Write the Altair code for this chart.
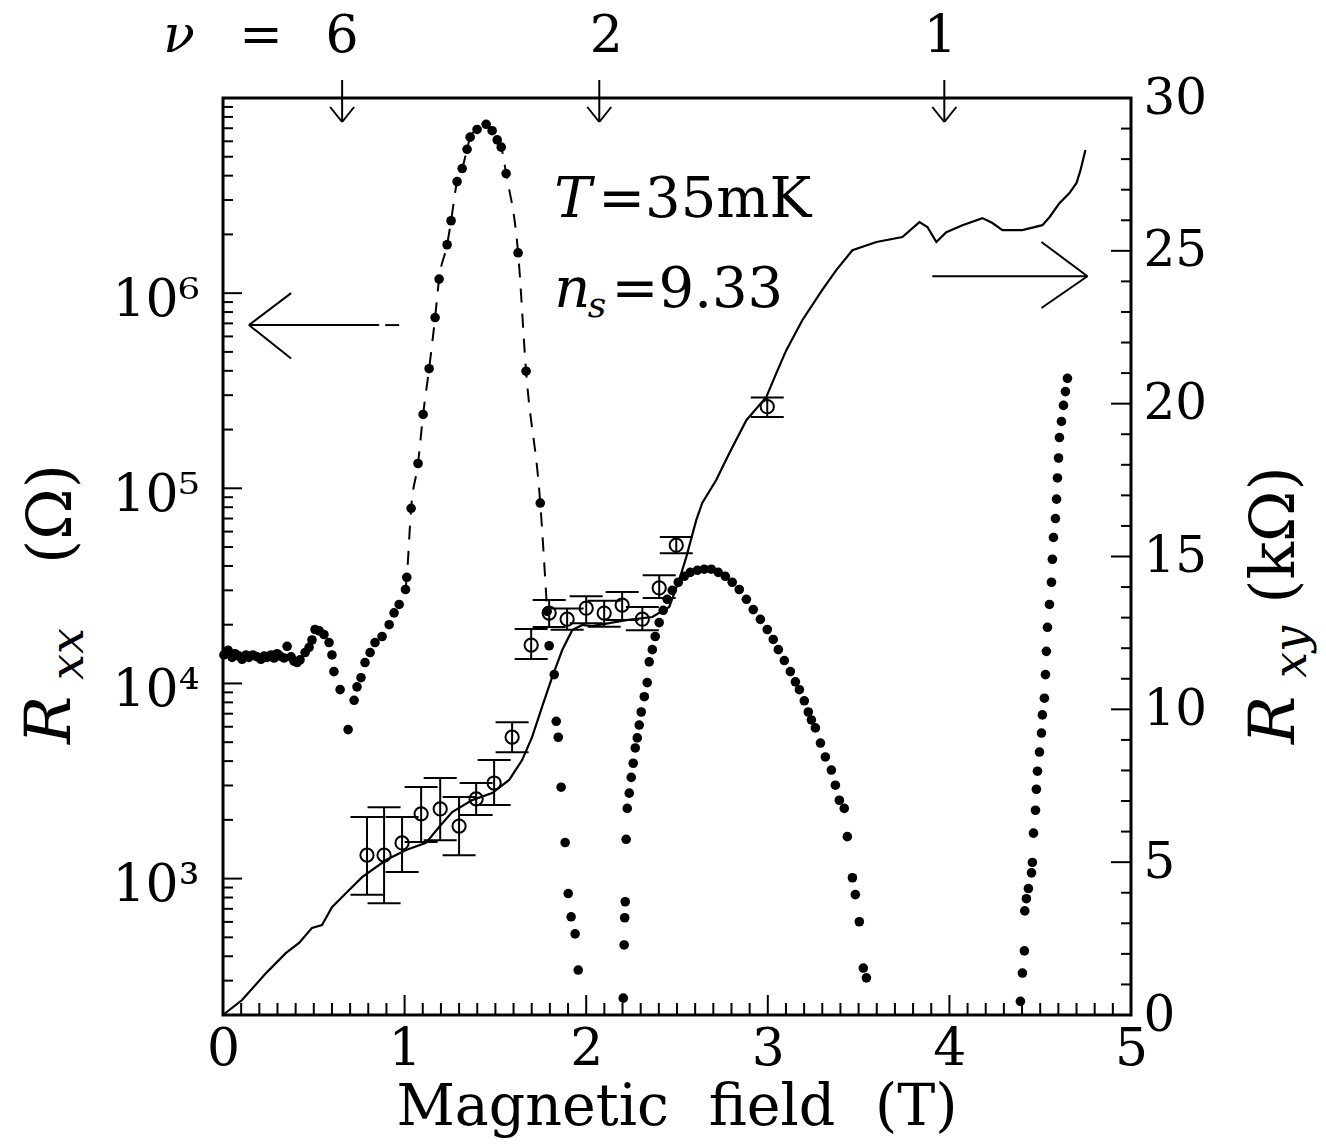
import altair as alt
import pandas as pd

FONT = "DejaVu Serif"

# ---------------- values ----------------
# R_xx (Ohm), filled dots, left logarithmic axis
rxx_B = [0.005, 0.028, 0.050, 0.066, 0.088, 0.105, 0.127, 0.143, 0.165, 0.187,
         0.209, 0.226, 0.242, 0.264, 0.281, 0.298, 0.314, 0.336, 0.353, 0.375,
         0.391, 0.408, 0.424, 0.452, 0.474, 0.490, 0.507, 0.530, 0.556, 0.584,
         0.600, 0.611, 0.645, 0.689, 0.722, 0.738, 0.760, 0.782, 0.810, 0.837,
         0.876, 0.915, 0.942, 0.970, 1.005, 1.012, 1.036, 1.074, 1.102, 1.135,
         1.168, 1.190, 1.234, 1.256, 1.289, 1.317, 1.344, 1.361, 1.399, 1.449,
         1.482, 1.510, 1.532, 1.559, 1.625, 1.669, 1.747, 1.785, 1.796, 1.824,
         1.835, 1.846, 1.862, 1.884, 1.901, 1.917, 1.939, 1.956,
         2.204, 2.209, 2.212, 2.215, 2.220, 2.226, 2.237, 2.248, 2.259, 2.270,
         2.281, 2.292, 2.303, 2.320, 2.336, 2.347, 2.364, 2.380, 2.402, 2.424,
         2.446, 2.474, 2.507, 2.540, 2.573, 2.612, 2.650, 2.689, 2.727, 2.766,
         2.804, 2.843, 2.882, 2.920, 2.959, 2.997, 3.030, 3.058, 3.091, 3.124,
         3.152, 3.174, 3.201, 3.223, 3.240, 3.262, 3.290, 3.317, 3.350, 3.372,
         3.394, 3.421, 3.438, 3.466, 3.482, 3.504, 3.526, 3.543,
         4.391, 4.402, 4.413, 4.415, 4.424, 4.435, 4.452, 4.457, 4.463, 4.474,
         4.479, 4.485, 4.496, 4.507, 4.512, 4.523, 4.529, 4.534, 4.540, 4.551,
         4.562, 4.567, 4.573, 4.584, 4.590, 4.595, 4.601, 4.606, 4.617, 4.628,
         4.639, 4.650]
rxx_R = [14000, 14800, 13600, 14200, 13800, 13300, 14000, 13600, 14000, 13700,
         13300, 13800, 13600, 14000, 13500, 14200, 13800, 13500, 15500, 13700,
         13000, 12800, 13200, 14400, 15300, 16700, 18900, 18600, 17800, 16200,
         14000, 11500, 9300, 5800, 8200, 9600, 10700, 12800, 14400, 16200,
         17400, 20000, 23000, 25400, 30300, 35000, 79000, 134000, 239000, 410000,
         750000, 1180000, 1770000, 2350000, 3730000, 4350000, 5460000, 6300000, 6900000, 7330000,
         6800000, 6100000, 5600000, 4100000, 1610000, 398000, 84000, 23400, 15600, 11100,
         6400, 5300, 2940, 1530, 838, 637, 521, 340,
         244, 457, 630, 761, 1590, 2290, 2740, 3300, 3900, 4670,
         5260, 6120, 7140, 8550, 10100, 12900, 14900, 17400, 20500, 23700,
         27000, 30000, 33000, 35400, 37100, 38000, 38500, 38500, 37100, 35400,
         33000, 30300, 27000, 23900, 21300, 18900, 16800, 14900, 13100, 11500,
         10200, 9290, 8150, 7140, 6500, 5920, 4950, 4200, 3600, 3010,
         2520, 2290, 1640, 1010, 828, 601, 348, 310,
         235, 328, 426, 683, 789, 889, 1070, 1210, 1710, 2240,
         2870, 3550, 4450, 5570, 6900, 8400, 11100, 14600, 19400, 25400,
         33000, 43300, 56000, 70000, 88000, 113000, 143000, 182000, 220000, 266000,
         313000, 366000]

# R_xy (kOhm), solid trace, right axis
rxy_B = [0.000, 0.105, 0.237, 0.347, 0.419, 0.490, 0.545, 0.600, 0.678, 0.766,
         0.898, 1.008, 1.118, 1.190, 1.262, 1.372, 1.482, 1.576, 1.647, 1.702,
         1.757, 1.813, 1.868, 1.923, 1.978, 2.033, 2.220, 2.364, 2.457, 2.512,
         2.551, 2.606, 2.639, 2.716, 2.788, 2.882, 2.992, 3.047, 3.102, 3.190,
         3.300, 3.377, 3.466, 3.598, 3.741, 3.835, 3.879, 3.928, 3.983, 4.072,
         4.182, 4.237, 4.292, 4.402, 4.512, 4.551, 4.606, 4.661, 4.700, 4.722,
         4.749]
rxy_R = [0.00, 0.49, 1.37, 2.03, 2.36, 2.85, 2.94, 3.53, 3.99, 4.51,
         5.07, 5.40, 5.63, 6.15, 6.64, 7.03, 7.26, 7.69, 8.34, 9.09,
         10.08, 11.06, 11.94, 12.59, 12.76, 12.72, 12.92, 13.02, 13.35, 14.23,
         14.98, 16.19, 16.75, 17.50, 18.38, 19.46, 20.22, 21.00, 21.75, 22.73,
         23.72, 24.37, 25.02, 25.29, 25.45, 25.94, 25.78, 25.29, 25.61, 25.84,
         26.07, 25.91, 25.68, 25.68, 25.84, 26.10, 26.56, 26.89, 27.22, 27.64,
         28.30]

# R_xy points with error bars (kOhm), open circles, right axis
eb_B = [0.793, 0.887, 0.986, 1.091, 1.196, 1.300, 1.394, 1.493, 1.592, 1.697,
        1.796, 1.895, 2.000, 2.099, 2.198, 2.309, 2.402, 2.496, 2.997]
eb_R = [5.23, 5.23, 5.63, 6.58, 6.74, 6.18, 7.07, 7.59, 9.09, 12.10,
        13.15, 12.95, 13.31, 13.15, 13.41, 12.95, 13.97, 15.37, 19.90]
eb_lo = [3.93, 3.66, 4.68, 5.66, 5.72, 5.23, 6.54, 6.87, 8.60, 11.65,
         12.69, 12.60, 12.82, 12.70, 12.92, 12.59, 13.64, 15.11, 19.56]
eb_hi = [6.48, 6.80, 6.48, 7.46, 7.75, 7.13, 7.59, 8.34, 9.58, 12.63,
         13.58, 13.30, 13.70, 13.55, 13.84, 13.35, 14.39, 15.64, 20.20]

# tick labels
x_ticks = [0, 1, 2, 3, 4, 5]
left_ticks = [1e3, 1e4, 1e5, 1e6]
right_ticks = [0, 5, 10, 15, 20, 25, 30]

# filling factor markers (field in T) and their labels
nu_B = [0.656, 2.072, 3.972]
nu_label_B = [0.656, 2.11, 3.95]
nu_text = ["6", "2", "1"]

# arrows pointing to the axes (data units)
larrow_B = [0.143, 0.860, 0.375, 0.893, 0.970]
larrow_R = [6.86e5, 1.0e6, 4.63e5]
rarrow_B = [3.906, 4.760, 4.507]
rarrow_R = [24.17, 25.29, 23.13]

# ---------------- frames ----------------
df_rxx = pd.DataFrame({"B": rxx_B, "R": rxx_R})
df_dash = df_rxx[(df_rxx.B >= 1.0) & (df_rxx.B <= 1.79)]
df_rxy = pd.DataFrame({"B": rxy_B, "R": rxy_R})
df_eb = pd.DataFrame({"B": eb_B, "R": eb_R, "lo": eb_lo, "hi": eb_hi})

W, H = 908, 917

xs = alt.Scale(domain=[0, 5], nice=False, zero=False)
ysl = alt.Scale(type="log", domain=[200, 1e7], nice=False)
ysr = alt.Scale(domain=[0, 30], nice=False, zero=False)

common = dict(title=None, ticks=False, domain=False, grid=False, labelFont=FONT,
              labelColor="black", labelOverlap=False, labelFlush=False, labelBound=False)
x_axis = alt.Axis(values=x_ticks, format="d", labelFontSize=52, labelPadding=8, **common)
l_expr = ("datum.value == 1000 ? '10\u00b3' : datum.value == 10000 ? '10\u2074' : "
          "datum.value == 100000 ? '10\u2075' : '10\u2076'")
l_axis = alt.Axis(values=left_ticks, labelExpr=l_expr, orient="left", labelFontSize=52,
                  labelPadding=24, labelOffset=6, **common)
r_axis = alt.Axis(values=right_ticks, format="d", orient="right", labelFontSize=50,
                  labelPadding=12, **common)


def X(f="B"):
    return alt.X(f"{f}:Q", scale=xs, axis=x_axis)


def YL(f):
    return alt.Y(f"{f}:Q", scale=ysl, axis=l_axis)


def YR(f):
    return alt.Y(f"{f}:Q", scale=ysr, axis=r_axis)


def PX(f):
    return alt.X(f"{f}:Q", scale=None, axis=None)


def PY(f):
    return alt.Y(f"{f}:Q", scale=None, axis=None)


# ---------------- left (R_xx) group ----------------
dash = alt.Chart(df_dash).mark_line(color="black", strokeWidth=2, strokeDash=[14, 11],
                                    interpolate="monotone").encode(x=X(), y=YL("R"))
dots = alt.Chart(df_rxx).mark_circle(size=92, color="black", opacity=1).encode(x=X(), y=YL("R"))

la = pd.DataFrame({
    "x1": [larrow_B[0], larrow_B[0], larrow_B[0], larrow_B[3]],
    "x2": [larrow_B[1], larrow_B[2], larrow_B[2], larrow_B[4]],
    "y1": [larrow_R[0]] * 4,
    "y2": [larrow_R[0], larrow_R[1], larrow_R[2], larrow_R[0]],
})
larrow = alt.Chart(la).mark_rule(color="black", strokeWidth=2).encode(
    x=X("x1"), x2="x2:Q", y=YL("y1"), y2="y2:Q")

lt_all = [m * 10 ** e for e in range(2, 7) for m in range(1, 10) if 200 <= m * 10 ** e <= 1e7]
lt_major = pd.DataFrame({"v": [v for v in lt_all if v in left_ticks]})
lt_minor = pd.DataFrame({"v": [v for v in lt_all if v not in left_ticks]})
lt1 = alt.Chart(lt_minor).mark_rule(color="black", strokeWidth=2).encode(
    y=YL("v"), x=alt.value(0), x2=alt.value(10))
lt2 = alt.Chart(lt_major).mark_rule(color="black", strokeWidth=2).encode(
    y=YL("v"), x=alt.value(0), x2=alt.value(19))

left = alt.layer(lt1, lt2, dash, dots, larrow)

# ---------------- right (R_xy) group ----------------
line = alt.Chart(df_rxy).mark_line(color="black", strokeWidth=2.2).encode(x=X(), y=YR("R"))
ebar = alt.Chart(df_eb).mark_rule(color="black", strokeWidth=2).encode(x=X(), y=YR("lo"), y2="hi:Q")
cap_lo = alt.Chart(df_eb).mark_tick(orient="horizontal", size=33, thickness=2, color="black",
                                    opacity=1).encode(x=X(), y=YR("lo"))
cap_hi = alt.Chart(df_eb).mark_tick(orient="horizontal", size=33, thickness=2, color="black",
                                    opacity=1).encode(x=X(), y=YR("hi"))
circ = alt.Chart(df_eb).mark_point(shape="circle", size=175, filled=False, color="black",
                                   strokeWidth=2, opacity=1).encode(x=X(), y=YR("R"))

ra = pd.DataFrame({
    "x1": [rarrow_B[0], rarrow_B[1], rarrow_B[1]],
    "x2": [rarrow_B[1], rarrow_B[2], rarrow_B[2]],
    "y1": [rarrow_R[0]] * 3,
    "y2": [rarrow_R[0], rarrow_R[1], rarrow_R[2]],
})
rarrow = alt.Chart(ra).mark_rule(color="black", strokeWidth=2).encode(
    x=X("x1"), x2="x2:Q", y=YR("y1"), y2="y2:Q")

rt_major = pd.DataFrame({"v": [5, 10, 15, 20, 25]})
rt_minor = pd.DataFrame({"v": [v for v in range(1, 30) if v % 5 != 0]})
rt1 = alt.Chart(rt_minor).mark_rule(color="black", strokeWidth=2).encode(
    y=YR("v"), x=alt.value(W), x2=alt.value(W - 10))
rt2 = alt.Chart(rt_major).mark_rule(color="black", strokeWidth=2).encode(
    y=YR("v"), x=alt.value(W), x2=alt.value(W - 20))

right = alt.layer(rt1, rt2, line, ebar, cap_lo, cap_hi, circ, rarrow)

# ---------------- decorations (x only) ----------------
bt_major = pd.DataFrame({"B": [1, 2, 3, 4]})
bt_minor = pd.DataFrame({"B": [k / 10 for k in range(1, 50) if k % 10 != 0]})
bt1 = alt.Chart(bt_minor).mark_rule(color="black", strokeWidth=2).encode(
    x=X(), y=alt.value(H), y2=alt.value(H - 12))
bt2 = alt.Chart(bt_major).mark_rule(color="black", strokeWidth=2).encode(
    x=X(), y=alt.value(H), y2=alt.value(H - 20))

df_nu = pd.DataFrame({"B": nu_B})
nu_shaft = alt.Chart(df_nu).mark_rule(color="black", strokeWidth=2).encode(
    x=X(), y=alt.value(-18), y2=alt.value(24))
arm = 0.066
df_arm = pd.DataFrame({"x1": [b - arm for b in nu_B] + [b + arm for b in nu_B],
                       "x2": nu_B + nu_B})
nu_arms = alt.Chart(df_arm).mark_rule(color="black", strokeWidth=2).encode(
    x=X("x1"), x2="x2:Q", y=alt.value(9), y2=alt.value(24))

nu_sym = alt.Chart(pd.DataFrame({"B": [-0.242], "t": ["\u03bd"]})).mark_text(
    font=FONT, fontSize=52, fontStyle="italic", color="black", align="center",
    baseline="middle").encode(x=X(), y=alt.value(-62), text="t:N")
nu_num = alt.Chart(pd.DataFrame({"B": [0.209] + nu_label_B, "t": ["="] + nu_text})).mark_text(
    font=FONT, fontSize=52, color="black", align="center", baseline="middle").encode(
    x=X(), y=alt.value(-62), text="t:N")

# annotations T=35mK, n_s=9.33
ann_it = alt.Chart(pd.DataFrame({"B": [1.824, 1.824, 2.008], "t": ["T", "n", "s"],
                                 "yy": [119, 209, 219], "fs": [56, 56, 36]})).mark_text(
    font=FONT, fontStyle="italic", color="black", align="left", baseline="alphabetic").encode(
    x=X(), y=PY("yy"), text="t:N", size=alt.Size("fs:Q", scale=None, legend=None))
ann_rm = alt.Chart(pd.DataFrame({"B": [2.066, 2.14], "t": ["=35mK", "=9.33"],
                                 "yy": [119, 209]})).mark_text(
    font=FONT, fontSize=56, color="black", align="left", baseline="alphabetic").encode(
    x=X(), y=PY("yy"), text="t:N")

# axis titles as text
tit_x = alt.Chart(pd.DataFrame({"t": ["Magnetic\u2002\u2009field\u2002\u2009(T)"],
                                "px": [W / 2], "py": [1027]})).mark_text(
    font=FONT, fontSize=57, color="black", align="center", baseline="alphabetic").encode(
    x=PX("px"), y=PY("py"), text="t:N")
tit_it = alt.Chart(pd.DataFrame({"t": ["R", "xx", "R", "xy"],
                                 "px": [-172, -154, 1052, 1069],
                                 "py": [622, 556, 622, 554],
                                 "fs": [64, 46, 64, 46]})).mark_text(
    font=FONT, fontStyle="italic", color="black", align="center", baseline="middle",
    angle=270).encode(x=PX("px"), y=PY("py"), text="t:N",
                      size=alt.Size("fs:Q", scale=None, legend=None))
tit_rm = alt.Chart(pd.DataFrame({"t": ["(\u03a9)", "(k\u03a9)"],
                                 "px": [-171, 1052], "py": [416, 437]})).mark_text(
    font=FONT, fontSize=62, color="black", align="center", baseline="middle",
    angle=270).encode(x=PX("px"), y=PY("py"), text="t:N")

inner = alt.layer(left, right).resolve_scale(y="independent")
chart = alt.layer(inner, bt1, bt2, nu_shaft, nu_arms, nu_sym, nu_num,
                  ann_it, ann_rm, tit_x, tit_it, tit_rm).resolve_scale(y="independent")

chart = chart.properties(
    width=W, height=H,
    autosize=alt.AutoSizeParams(type="none"),
    padding={"left": 223, "top": 98, "right": 195, "bottom": 130},
    background="white",
).configure_view(stroke="black", strokeWidth=3)

chart.save("out.html", embed_options={"renderer": "svg", "actions": False})
